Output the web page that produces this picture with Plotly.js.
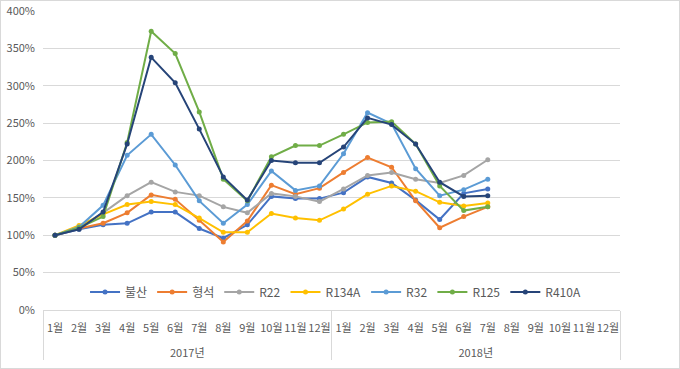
<!DOCTYPE html>
<html>
<head>
<meta charset="utf-8">
<script src="https://cdn.plot.ly/plotly-3.0.1.min.js"></script>
<style>
html,body{margin:0;padding:0;background:#fff;}
#wrap{position:relative;width:680px;height:369px;}
#chart{width:680px;height:369px;}
#frame{position:absolute;left:0;top:0;width:678px;height:367px;border:1px solid #D9D9D9;pointer-events:none;}
</style>
</head>
<body>
<div id="wrap"><div id="chart"></div><div id="frame"></div></div>
<script>
const years = ['2017년', '2018년'];
const months = ['1월','2월','3월','4월','5월','6월','7월','8월','9월','10월','11월','12월'];
const seriesNames = ['불산','형석','R22','R134A','R32','R125','R410A'];
const seriesColors = ['#4472C4','#ED7D31','#A5A5A5','#FFC000','#5B9BD5','#70AD47','#264478'];

const bulsan     = [100,108,114,116,131,131,109,96,114,152,149,149, 157,178,170,147,121,156,162,null,null,null,null,null];
const hyeongseok = [100,109,116,130,154,148,120,91,119,167,155,163, 184,204,191,146,110,125,138,null,null,null,null,null];
const r22        = [100,110,130,153,171,158,153,138,130,156,152,145, 162,180,184,175,170,180,201,null,null,null,null,null];
const r134a      = [100,113,128,141,145,141,123,104,104,129,123,120, 135,155,166,159,144,139,143,null,null,null,null,null];
const r32        = [100,111,140,207,235,194,146,116,141,186,160,166, 209,264,249,189,153,161,175,null,null,null,null,null];
const r125       = [100,110,125,224,373,343,265,175,146,205,220,220, 235,251,252,222,166,133,138,null,null,null,null,null];
const r410a      = [100,108,131,222,338,304,242,178,147,200,197,197, 218,257,248,222,171,152,153,null,null,null,null,null];

const seriesValues = [bulsan, hyeongseok, r22, r134a, r32, r125, r410a];

// year group labels are pushed down one line, as in the reference layout
const xYears = [], xMonths = [];
years.forEach(y => months.forEach(m => { xYears.push(' <br>' + y); xMonths.push(m); }));

const font = {family: '"Noto Sans CJK KR", "Noto Sans", sans-serif', size: 11, color: '#595959'};

const traces = seriesNames.map((n, i) => ({
  type: 'scatter',
  mode: 'lines+markers',
  name: n,
  x: [xYears, xMonths],
  y: seriesValues[i],
  line: {color: seriesColors[i], width: 2},
  marker: {color: seriesColors[i], size: 5, symbol: 'circle'},
  connectgaps: false
}));

const layout = {
  width: 680, height: 369,
  margin: {l: 43, r: 60, t: 11, b: 59},
  paper_bgcolor: '#fff', plot_bgcolor: '#fff',
  font: font,
  showlegend: true,
  legend: {orientation: 'h', x: 0.507, xanchor: 'center', y: 0.06, yanchor: 'middle',
           font: {family: font.family, size: 12, color: '#595959'}, bgcolor: 'rgba(0,0,0,0)',
           itemwidth: 30, tracegroupgap: 0},
  xaxis: {
    type: 'multicategory',
    range: [-0.5, 23.5],
    showgrid: false, zeroline: false,
    showline: true, linecolor: '#D9D9D9', linewidth: 1,
    ticks: '', tickangle: 0, ticklabelstandoff: 8,
    showdividers: true, dividercolor: '#D9D9D9', dividerwidth: 1,
    tickfont: {family: font.family, size: 11, color: '#595959'},
    fixedrange: true
  },
  yaxis: {
    range: [0, 400],
    tickvals: [0,50,100,150,200,250,300,350,400],
    ticktext: ['0%','50%','100%','150%','200%','250%','300%','350%','400%'],
    showgrid: true, gridcolor: '#D9D9D9', gridwidth: 1,
    zeroline: false, showline: false, ticks: '', ticklabelstandoff: 7,
    tickfont: {family: font.family, size: 11, color: '#595959'},
    fixedrange: true
  }
};

Plotly.newPlot('chart', traces, layout, {displayModeBar: false, staticPlot: true});
</script>
</body>
</html>
